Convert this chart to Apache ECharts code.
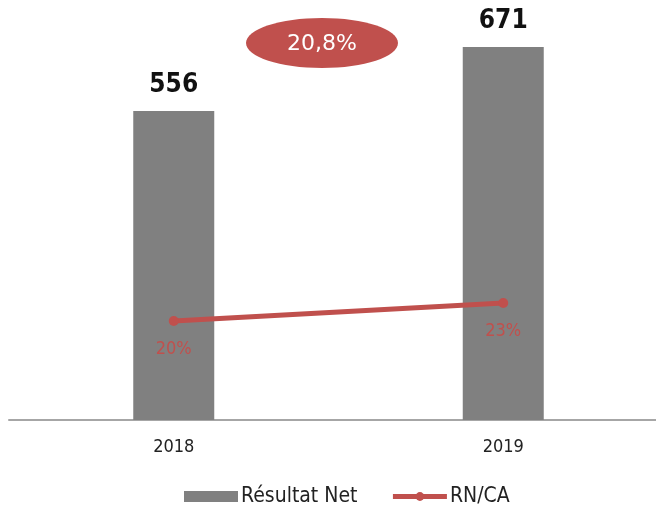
<!DOCTYPE html>
<html><head><meta charset="utf-8">
<script src="https://cdn.jsdelivr.net/npm/echarts@6/dist/echarts.min.js"></script>
<style>html,body{margin:0;padding:0;background:#fff}#c{width:656px;height:505px}</style>
</head><body><div id="c"></div>
<script>
const categories = ['2018', '2019'];
const resultatNet = [556, 671];
const rnca = [20, 23];
const seriesNames = ['Résultat Net', 'RN/CA'];
const bubbleText = '20,8%';
const unitText = 'En million de MAD';

const chart = echarts.init(document.getElementById('c'));
const FONT = 'DejaVu Sans Condensed';
chart.setOption({
  animation: false,
  textStyle: { fontFamily: FONT },
  grid: { left: 9, top: 31, width: 659, height: 389, outerBoundsMode: 'none', containLabel: false },
  legend: {
    top: 481, left: 179,
    itemWidth: 54, itemHeight: 11, itemGap: 33,
    textStyle: { fontSize: 21, color: '#222', fontFamily: FONT, padding: [0,0,0,-2] },
    data: [
      { name: seriesNames[0], icon: 'rect' },
      { name: seriesNames[1], lineStyle: { width: 5, color: '#c0504d' }, itemStyle: { color: '#c0504d' } }
    ]
  },
  xAxis: {
    type: 'category', data: categories,
    axisLine: { lineStyle: { color: '#a6a6a6', width: 2 } },
    axisTick: { show: false },
    axisLabel: { fontSize: 18, color: '#222', margin: 18 }
  },
  yAxis: [
    { type: 'value', min: 0, max: 700, show: false, splitLine: { show: false } },
    { type: 'value', min: 3.5, max: 68.33, show: false, splitLine: { show: false } }
  ],
  series: [
    {
      name: seriesNames[0], type: 'bar', data: resultatNet, barWidth: 81,
      itemStyle: { color: '#808080' },
      label: { show: true, position: 'top', distance: 13, fontSize: 26, fontWeight: 'bold', color: '#111' }
    },
    {
      name: seriesNames[1], type: 'line', yAxisIndex: 1, data: rnca,
      symbol: 'circle', symbolSize: 10,
      lineStyle: { color: '#c0504d', width: 5 },
      itemStyle: { color: '#c0504d' },
      label: { show: true, position: 'bottom', distance: 14, fontSize: 18, color: '#c0504d', formatter: p => p.value + '%' }
    }
  ],
  graphic: [
    { type: 'ellipse', shape: { cx: 322, cy: 43, rx: 76, ry: 25 }, style: { fill: '#c0504d' } },
    { type: 'text', x: 322, y: 44, style: { text: bubbleText, fill: '#fff', fontSize: 22, fontFamily: 'DejaVu Sans', align: 'center', verticalAlign: 'middle' } },
    { type: 'text', left: 13, top: -13, style: { text: unitText, fill: '#111', fontSize: 17, fontWeight: 'bold', fontFamily: FONT } }
  ]
});
</script></body></html>
